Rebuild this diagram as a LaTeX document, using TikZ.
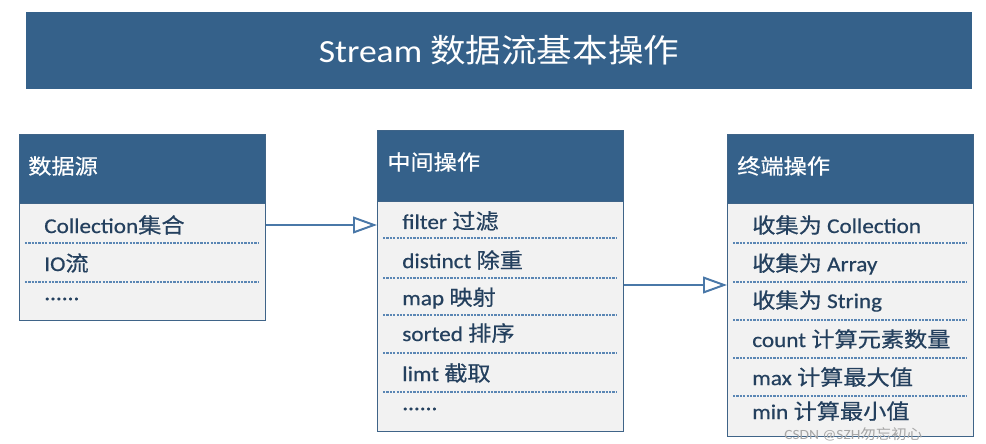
\documentclass[tikz,border=0pt]{standalone}
\usepackage{fontspec}
\usepackage{tikz}
\usetikzlibrary{arrows.meta}
\usetikzlibrary{positioning}
\setmainfont{Carlito}[FakeStretch=1.1]
\newfontfamily\cjk{Noto Sans CJK SC}[FakeStretch=1.1]
\newfontfamily\latinrow{Carlito}[FakeStretch=1.1,FakeBold=0.6]
\newfontfamily\cjkrow{Noto Sans CJK SC}[FakeStretch=1.1,FakeBold=0.6]
\definecolor{headblue}{HTML}{35618A}
\definecolor{boxline}{HTML}{3F6488}
\definecolor{boxbg}{HTML}{F2F2F2}
\definecolor{itemtext}{HTML}{24405E}
\definecolor{dotblue}{HTML}{5A86B4}
\definecolor{arrowblue}{HTML}{4A78A8}
\tikzset{
  titlebox/.style = {fill=headblue, text=white, minimum width=23.65cm, minimum height=1.925cm,
                     inner sep=0, font=\fontsize{23pt}{27pt}\selectfont},
  box/.style = {draw=boxline, fill=boxbg, line width=1pt, inner sep=0, anchor=north west, minimum width=6.15cm},
  headbox/.style = {draw=boxline, fill=headblue, line width=1pt, inner sep=0, anchor=north west,
                    minimum width=6.15cm, minimum height=1.725cm},
  headtext/.style = {anchor=west, inner sep=0, text=white,
                     font=\fontsize{15pt}{18pt}\selectfont\latinrow\let\cjk\cjkrow},
  item/.style = {anchor=west, inner sep=0, text=itemtext,
                 font=\fontsize{15pt}{18pt}\selectfont\latinrow\let\cjk\cjkrow},
  dots/.style = {draw=dotblue, line width=1pt, dash pattern=on 1.6pt off 0.8pt},
  flow/.style = {draw=arrowblue, line width=1.4pt, -{Triangle[open, length=0.6cm, width=0.42cm, fill=white]}},
  wmark/.style = {anchor=west, inner sep=0, text=gray!70, font=\fontsize{10pt}{12pt}\selectfont}
}
\begin{document}
\begin{tikzpicture}
  \useasboundingbox (0,0) rectangle (24.65,11.075);
  \node [titlebox] (title) at (12.475,9.8125) {Stream {\cjk 数据流基本操作}};
  % source
  \node [box, minimum height=4.65cm] (src) at (0.475,7.725) {};
  \node [headbox] (srch) at (0.475,7.725) {};
  \node [headtext] (srct) at (0.7,6.925) {\cjk 数据源};
  \node [item] (s1) at (1.1,5.45) {Collection{\cjk 集合}};
  \node [item] (s2) at (1.1,4.5) {IO{\cjk 流}};
  \node [item] (s3) at (1.1,3.6) {......};
  \draw [dots] (0.625,5.0)--(6.45,5.0);
  \draw [dots] (0.625,4.025)--(6.45,4.025);
  % intermediate
  \node [box, minimum height=7.525cm] (mid) at (9.425,7.825) {};
  \node [headbox, minimum height=1.775cm] (midh) at (9.425,7.825) {};
  \node [headtext] (midt) at (9.675,7.025) {\cjk 中间操作};
  \node [item] (m1) at (10.05,5.55) {filter {\cjk 过滤}};
  \node [item] (m2) at (10.05,4.575) {distinct {\cjk 除重}};
  \node [item] (m3) at (10.05,3.625) {map {\cjk 映射}};
  \node [item] (m4) at (10.05,2.75) {sorted {\cjk 排序}};
  \node [item] (m5) at (10.05,1.75) {limt {\cjk 截取}};
  \node [item] (m6) at (10.05,0.85) {......};
  \draw [dots] (9.575,5.125)--(15.425,5.125);
  \draw [dots] (9.575,4.125)--(15.425,4.125);
  \draw [dots] (9.575,3.2)--(15.425,3.2);
  \draw [dots] (9.575,2.25)--(15.425,2.25);
  \draw [dots] (9.575,1.275)--(15.425,1.275);
  % terminal
  \node [box, minimum height=7.55cm] (term) at (18.175,7.725) {};
  \node [headbox] (termh) at (18.175,7.725) {};
  \node [headtext] (termt) at (18.425,6.925) {\cjk 终端操作};
  \node [item] (t1) at (18.8,5.45) {{\cjk 收集为} Collection};
  \node [item] (t2) at (18.8,4.475) {{\cjk 收集为} Array};
  \node [item] (t3) at (18.8,3.55) {{\cjk 收集为} String};
  \node [item] (t4) at (18.8,2.6) {count {\cjk 计算元素数量}};
  \node [item] (t5) at (18.8,1.65) {max {\cjk 计算最大值}};
  \node [item] (t6) at (18.8,0.8) {min {\cjk 计算最小值}};
  \draw [dots] (18.325,5.0)--(24.175,5.0);
  \draw [dots] (18.325,4.025)--(24.175,4.025);
  \draw [dots] (18.325,3.075)--(24.175,3.075);
  \draw [dots] (18.325,2.125)--(24.175,2.125);
  \draw [dots] (18.325,1.175)--(24.175,1.175);
  % connectors
  \coordinate (k) at (16,3.95);
  \draw [flow] (src.east |- s1) -- (mid.west |- s1);
  \draw [flow] (mid.east |- k) -- (term.west |- k);
  \node [wmark] (wm) at (19.6,0.22) {CSDN @SZH{\cjk 勿忘初心}};
\end{tikzpicture}
\end{document}
